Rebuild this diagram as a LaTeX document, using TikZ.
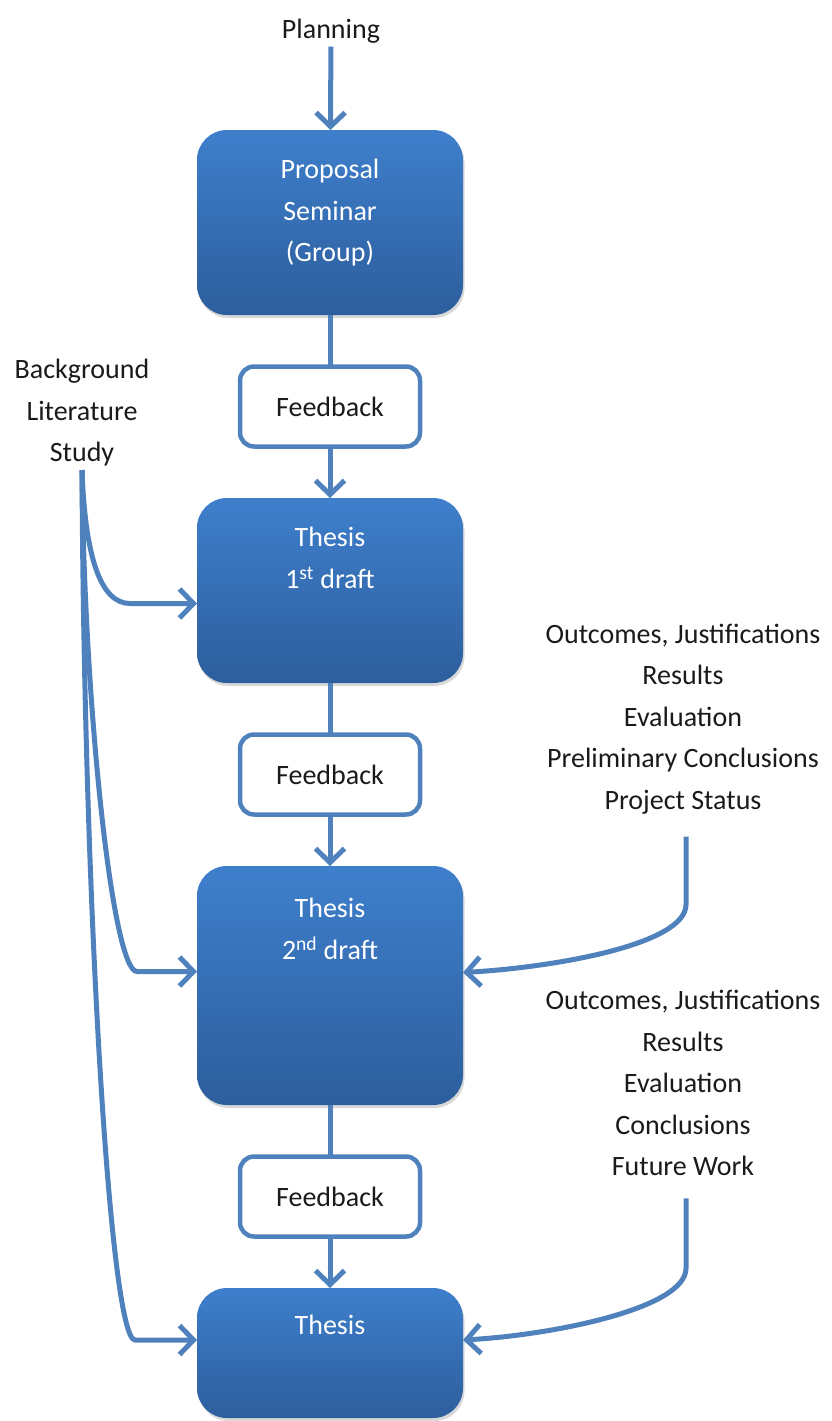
\documentclass[tikz,border=0pt]{standalone}
\usepackage{fontspec}
\setmainfont{Carlito}
\usepackage{xcolor}
\definecolor{cLine}{HTML}{4F81BD}
\definecolor{cTop}{HTML}{3E7FCC}
\definecolor{cBottom}{HTML}{2D5E9C}
\definecolor{cText}{HTML}{1A1A1A}
\usepackage{tikz}
\usetikzlibrary{positioning,arrows.meta,shadows}
\newcommand\diagfont{\fontsize{28}{41.5}\selectfont}
\tikzset{
  node-box/.style={rectangle,rounded corners=30pt,top color=cTop,bottom color=cBottom,
    minimum width=266pt,minimum height=185pt,outer sep=0pt,
    drop shadow={shadow xshift=1.5pt,shadow yshift=-3pt,opacity=0.3}},
  node-fb/.style={draw=cLine,line width=4.5pt,rounded corners=14pt,fill=white,
    minimum width=180pt,minimum height=80pt,outer sep=0pt,font=\diagfont,text=cText},
  box-text/.style={inner sep=0pt,align=center,font=\diagfont,text=white},
  node-label/.style={align=center,font=\diagfont,text=cText},
  arrow/.style={-{Straight Barb[length=14pt,width=29pt]},line width=5pt,draw=cLine},
  link/.style={line width=5pt,draw=cLine},
}

\begin{document}
\begin{tikzpicture}[x=1pt,y=-1pt,node distance=51.5pt]
  \useasboundingbox (0,0) rectangle (832,1421);
  % main column
  \node[node-box] (prop) at (330,222.5) {};
  \node[node-fb,below=of prop] (fb1) {Feedback};
  \node[node-box,below=of fb1] (draft1) {};
  \node[node-fb,below=of draft1] (fb2) {Feedback};
  \node[node-box,below=of fb2,minimum height=239pt] (draft2) {};
  \node[node-fb,below=of draft2] (fb3) {Feedback};
  \node[node-box,below=of fb3,minimum height=130pt] (final) {};
  \node[box-text,below=29pt of prop.north] (prop-txt) {Proposal\\Seminar\\(Group)};
  \node[box-text,below=29pt of draft1.north] (draft1-txt) {Thesis\\1\textsuperscript{st} draft};
  \node[box-text,below=32pt of draft2.north] (draft2-txt) {Thesis\\2\textsuperscript{nd} draft};
  \node[box-text,below=27pt of final.north] (final-txt) {Thesis};
  % inputs
  \node[node-label] (plan) at (331,31) {Planning};
  \node[node-label] (bls) at (82,413) {Background\\Literature\\Study};
  \node[node-label] (res1) at (683,719)
    {Outcomes, Justifications\\Results\\Evaluation\\Preliminary Conclusions\\Project Status};
  \node[node-label] (res2) at (683,1083)
    {Outcomes, Justifications\\Results\\Evaluation\\Conclusions\\Future Work};
  \coordinate[below=19pt of res1.south,xshift=3pt] (res1-out);
  \coordinate[below=19pt of res2.south,xshift=3pt] (res2-out);
  % flow
  \draw[arrow] (plan) -- (prop);
  \draw[link] (prop) -- (fb1);
  \draw[arrow] (fb1) -- (draft1);
  \draw[link] (draft1) -- (fb2);
  \draw[arrow] (fb2) -- (draft2);
  \draw[link] (draft2) -- (fb3);
  \draw[arrow] (fb3) -- (final);
  % literature study feeds every draft
  \draw[arrow] (bls.south) .. controls +(3,85) and +(-30,0) .. ([xshift=-67pt,yshift=-13pt]draft1.west)
    -- ([yshift=-13pt]draft1.west);
  \draw[arrow] (bls.south) .. controls +(2,230) and +(-25,0) .. ([xshift=-60pt,yshift=14pt]draft2.west)
    -- ([yshift=14pt]draft2.west);
  \draw[arrow] (bls.south) .. controls +(2,430) and +(-25,0) .. ([xshift=-62pt,yshift=13pt]final.west)
    -- ([yshift=13pt]final.west);
  % results into the later drafts
  \draw[arrow] (res1-out) -- ++(0,68) .. controls +(0,40) and +(90,-5) .. ([yshift=13pt]draft2.east);
  \draw[arrow] (res2-out) -- ++(0,70) .. controls +(0,40) and +(90,-5) .. ([yshift=13pt]final.east);
\end{tikzpicture}
\end{document}
